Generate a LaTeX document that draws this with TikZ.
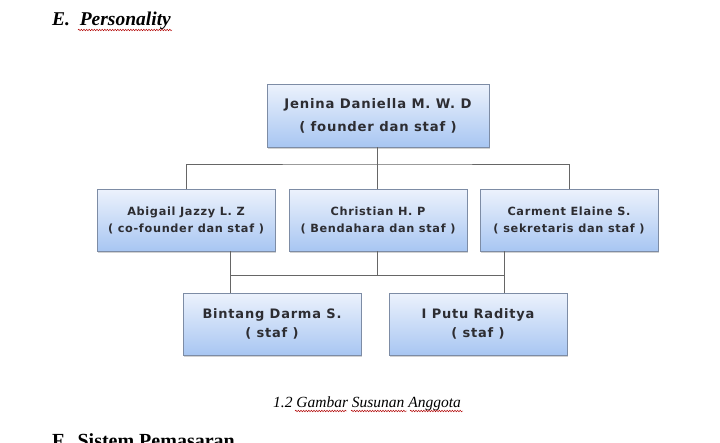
\documentclass[tikz,border=0pt]{standalone}
\usepackage{fontspec}
\setmainfont{Liberation Serif}
\newfontfamily\boxfont[LetterSpace=6]{DejaVu Sans}
\usetikzlibrary{shadows,decorations.pathmorphing}
\definecolor{boxtop}{RGB}{236,242,252}
\definecolor{boxbot}{RGB}{168,198,242}
\definecolor{boxline}{RGB}{125,140,165}
\definecolor{boxtext}{RGB}{45,45,50}
\begin{document}
\begin{tikzpicture}[x=1pt,y=-1pt,
  orgbox/.style={draw=boxline, line width=0.6pt,
    top color=boxtop, bottom color=boxbot,
    drop shadow={shadow xshift=1pt,shadow yshift=-1.5pt,opacity=0.35},
    align=center, text=boxtext, inner sep=0pt},
  link/.style={draw=black!60, line width=0.6pt},
  wavy/.style={draw=red!70!black, line width=0.45pt, decorate,
    decoration={snake, amplitude=0.8pt, segment length=2.6pt}}]
\useasboundingbox[fill=white] (0,0) rectangle (720,442);
% heading
\node[anchor=base west, font=\fontsize{19.5}{22}\selectfont\bfseries\itshape, inner sep=0pt] (head) at (52,25) {E.\ \ Personality};
\draw[wavy] (78,30) -- (172,30);
% boxes
\node[orgbox, minimum width=222pt, minimum height=63pt, font=\boxfont\bfseries\fontsize{13.2}{23}\selectfont] (top) at (378,115.5)
  {Jenina Daniella M. W. D\\( founder dan staf )};
\node[orgbox, minimum width=178pt, minimum height=62pt, font=\boxfont\bfseries\fontsize{11.3}{17}\selectfont] (abi) at (186,220)
  {Abigail Jazzy L. Z\\( co-founder dan staf )};
\node[orgbox, minimum width=178pt, minimum height=62pt, font=\boxfont\bfseries\fontsize{11.3}{17}\selectfont] (chr) at (378,220)
  {Christian H. P\\( Bendahara dan staf )};
\node[orgbox, minimum width=178pt, minimum height=62pt, font=\boxfont\bfseries\fontsize{11.3}{17}\selectfont] (car) at (569,220)
  {Carment Elaine S.\\( sekretaris dan staf )};
\node[orgbox, minimum width=178pt, minimum height=62pt, font=\boxfont\bfseries\fontsize{13}{19}\selectfont] (bin) at (272,324)
  {Bintang Darma S.\\( staf )};
\node[orgbox, minimum width=178pt, minimum height=62pt, font=\boxfont\bfseries\fontsize{13}{19}\selectfont] (put) at (478,324)
  {I Putu Raditya\\( staf )};
% connectors
\coordinate (j1) at (377,164);
\coordinate (j2) at (377,275);
\draw[link] (top.south -| j1) -- (chr.north -| j1);
\draw[link] (abi.north) |- (j1) -| (car.north);
\draw[link] (abi.south -| 230,0) -- (bin.north -| 230,0);
\draw[link] (car.south -| 504,0) -- (put.north -| 504,0);
\draw[link] (chr.south -| j2) -- (j2);
\draw[link] (230,275) -- (504,275);
% caption
\node[anchor=base, font=\fontsize{15.5}{18}\selectfont\itshape, inner sep=0pt] (cap) at (367,407) {1.2 Gambar Susunan Anggota};
\draw[wavy] (295,411) -- (347,411);
\draw[wavy] (351,411) -- (407,411);
\draw[wavy] (410,411) -- (463,411);
% next heading (cut off at the bottom edge)
\node[anchor=base west, font=\fontsize{20}{22}\selectfont\bfseries, inner sep=0pt] (next) at (52,447) {F.\ \ Sistem Pemasaran};
\end{tikzpicture}
\end{document}
